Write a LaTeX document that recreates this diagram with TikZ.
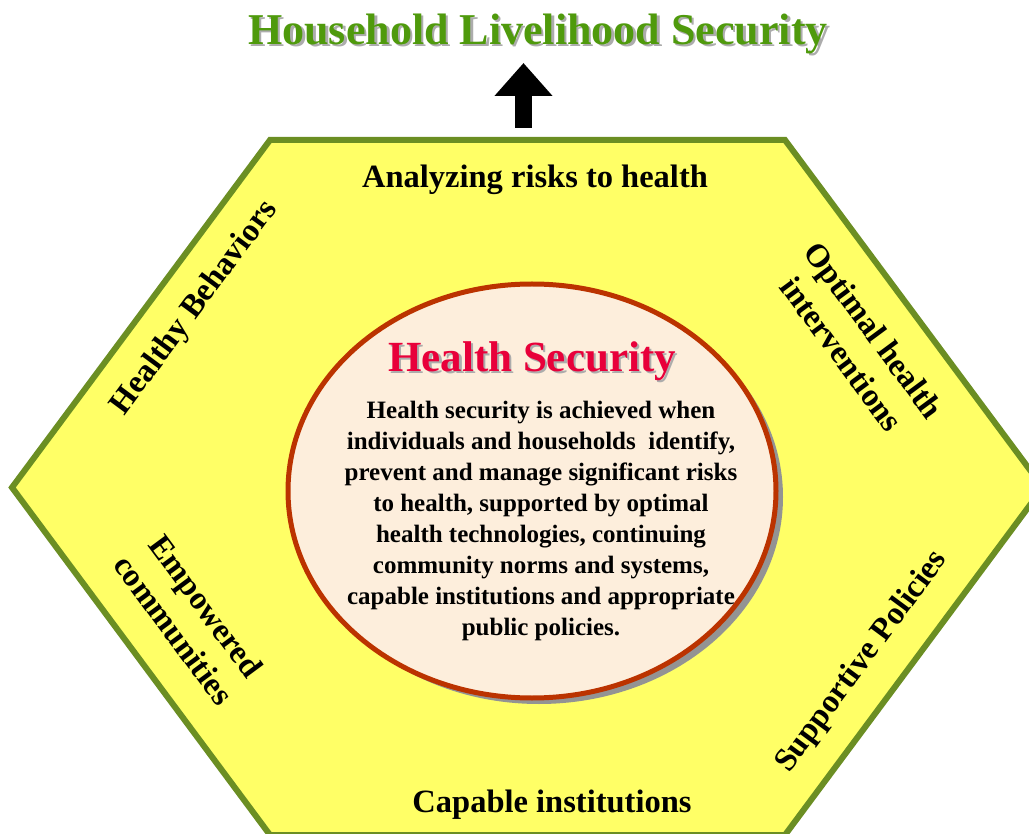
\documentclass[tikz,border=0pt]{standalone}
\usepackage{fontspec}
\setmainfont{Liberation Serif}
\usepackage{tikz}
\usetikzlibrary{
  positioning,
  shapes.geometric,
  shadows,
  arrows.meta
}
\definecolor{hexgreen}{HTML}{6B8E23}
\definecolor{hexfill}{HTML}{FFFF66}
\definecolor{titlegreen}{HTML}{4F9A0C}
\definecolor{ovalfill}{HTML}{FDEEDC}
\definecolor{ovalrim}{HTML}{BB3300}
\definecolor{hsred}{HTML}{E8003A}
\newcommand{\embosstext}[2]{\rlap{\hspace{2.5pt}\raisebox{-2.5pt}{\textcolor{gray!65}{#2}}}\textcolor{#1}{#2}}
\tikzset{
  x=1pt, y=-1pt,
  hexagon/.style={draw=hexgreen, fill=hexfill, line width=6pt, line join=miter},
  oval/.style={ellipse, draw=ovalrim, fill=ovalfill, line width=5pt,
    minimum width=488pt, minimum height=414pt,
    drop shadow={shadow xshift=7pt, shadow yshift=-6pt, fill=gray!85, opacity=1}},
  side/.style={font=\fontsize{32.5}{40}\selectfont\bfseries, align=center, inner sep=0pt},
  headline/.style={font=\fontsize{44}{46}\selectfont\bfseries, inner sep=0pt},
  body/.style={font=\fontsize{25}{31}\selectfont\bfseries, align=center, inner sep=0pt}
}

\begin{document}
\begin{tikzpicture}
    \useasboundingbox (0,0) rectangle (1029,834);
    \draw[hexagon] (270,140) -- (785,140) -- (1043,487.5) -- (785,835) -- (270,835) -- (12,487.5) -- cycle;
    \node[headline] (hls) at (538,35) {\embosstext{titlegreen}{Household Livelihood Security}};
    \coordinate (arrbase) at (523.5,128);
    \coordinate (arrtip) at (523.5,63);
    \draw[line width=17pt, -{Triangle[width=56pt, length=33pt]}] (arrbase) -- (arrtip);
    \node[oval] (hsec) at (532,491) {};
    \node[headline, font=\fontsize{43}{46}\selectfont\bfseries] (hstitle) at (532,362) {\embosstext{hsred}{Health Security}};
    \node[body] (hsbody) at (541,521) {Health security is achieved when\\
      individuals and households\ \ identify,\\
      prevent and manage significant risks\\
      to health, supported by optimal\\
      health technologies, continuing\\
      community norms and systems,\\
      capable institutions and appropriate\\
      public policies.};
    \node[side] (risks) at (535,180) {Analyzing risks to health};
    \node[side] (institutions) at (552,805) {Capable institutions};
    \node[side, rotate=53.5] (behaviors) at (195,308) {Healthy Behaviors};
    \node[side, rotate=-53.5] (interventions) at (858,342) {Optimal health\\interventions};
    \node[side, rotate=-53.5] (communities) at (190,618) {Empowered\\communities};
    \node[side, rotate=53.5] (policies) at (862,662) {Supportive Policies};
\end{tikzpicture}
\end{document}
